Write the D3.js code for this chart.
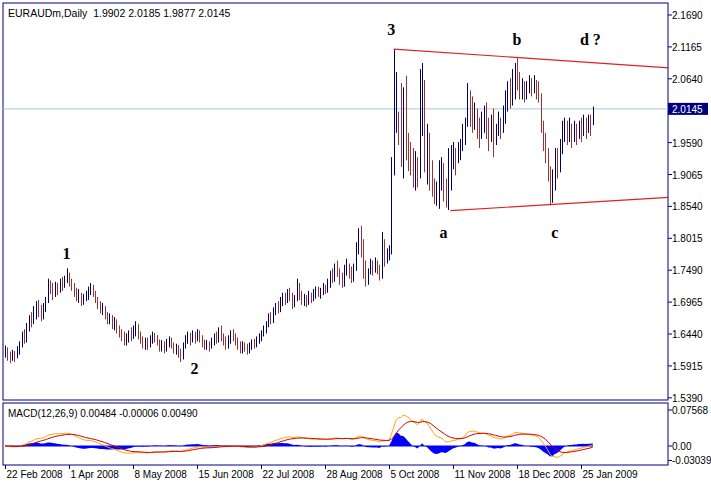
<!DOCTYPE html>
<html><head><meta charset="utf-8">
<script src="https://cdn.jsdelivr.net/npm/d3@7"></script>
<style>body{margin:0;background:#fff}svg{display:block}text{font-family:"Liberation Sans",Arial,sans-serif}</style>
</head><body><svg id="c" width="711" height="484"></svg>
<script>
// daily bars, open = previous close
const high = [1.625,1.622,1.615,1.618,1.616,1.624,1.632,1.648,1.652,1.662,1.675,1.680,1.690,1.698,1.700,1.692,1.695,1.705,1.735,1.732,1.728,1.730,1.728,1.735,1.738,1.740,1.752,1.745,
1.735,1.728,1.720,1.718,1.712,1.710,1.715,1.722,1.728,1.725,1.715,1.705,1.698,1.695,1.690,1.680,1.678,1.675,1.672,1.668,1.658,1.652,1.648,1.645,1.650,1.655,1.658,
1.665,1.660,1.648,1.640,1.638,1.638,1.642,1.648,1.646,1.642,1.635,1.634,1.632,1.636,1.640,1.638,1.630,1.628,1.626,1.620,1.630,1.642,1.648,1.646,1.650,1.648,1.652,
1.650,1.642,1.635,1.634,1.632,1.638,1.645,1.648,1.655,1.658,1.645,1.640,1.642,1.650,1.652,1.645,1.638,1.632,1.632,1.630,1.628,1.630,1.635,1.636,1.640,1.645,1.650,
1.658,1.665,1.678,1.680,1.688,1.695,1.698,1.705,1.712,1.712,1.718,1.720,1.712,1.708,1.735,1.728,1.715,1.710,1.708,1.715,1.712,1.718,1.722,1.722,1.720,1.728,1.725,
1.735,1.748,1.752,1.760,1.765,1.752,1.745,1.758,1.768,1.760,1.755,1.760,1.795,1.818,1.822,1.800,1.765,1.752,1.768,1.765,1.770,1.765,1.758,1.812,1.800,1.785,1.790,
1.935,2.113,2.075,2.010,2.057,2.050,2.069,1.975,1.960,1.950,1.945,1.935,2.080,2.090,2.062,1.990,1.975,1.930,1.900,1.895,1.930,1.935,1.925,1.900,1.950,1.955,
1.960,1.950,1.960,1.965,1.990,2.000,2.057,2.045,2.035,2.025,2.015,2.000,2.010,2.020,2.025,2.000,2.005,2.015,1.990,2.010,2.000,2.020,2.045,2.060,2.065,2.080,2.090,
2.098,2.075,2.065,2.060,2.060,2.070,2.065,2.070,2.062,2.060,2.040,1.995,1.975,1.950,1.920,1.915,1.950,1.950,1.965,1.995,2.000,1.995,2.000,1.990,1.995,1.990,1.995,
2.000,2.005,2.000,2.005,2.005,2.0185];
const low = [1.605,1.600,1.596,1.600,1.598,1.604,1.610,1.622,1.628,1.630,1.648,1.655,1.660,1.668,1.672,1.665,1.668,1.680,1.695,1.710,1.700,1.705,1.708,1.712,1.715,1.720,1.728,1.722,
1.715,1.705,1.698,1.695,1.690,1.692,1.698,1.700,1.708,1.705,1.695,1.685,1.678,1.675,1.668,1.660,1.660,1.652,1.650,1.645,1.638,1.632,1.625,1.625,1.630,1.632,1.636,
1.640,1.635,1.628,1.620,1.618,1.618,1.622,1.628,1.630,1.625,1.615,1.615,1.612,1.615,1.622,1.620,1.612,1.610,1.605,1.598,1.602,1.620,1.628,1.625,1.630,1.628,1.632,
1.630,1.622,1.618,1.618,1.615,1.620,1.625,1.628,1.630,1.632,1.625,1.618,1.620,1.628,1.632,1.625,1.618,1.612,1.612,1.615,1.610,1.612,1.618,1.620,1.622,1.628,1.632,
1.640,1.645,1.655,1.660,1.662,1.675,1.678,1.680,1.690,1.692,1.695,1.698,1.685,1.688,1.698,1.700,1.692,1.690,1.688,1.692,1.695,1.698,1.702,1.705,1.702,1.708,1.710,
1.712,1.720,1.728,1.730,1.738,1.725,1.720,1.722,1.740,1.735,1.728,1.730,1.748,1.775,1.770,1.735,1.722,1.725,1.742,1.740,1.745,1.742,1.732,1.735,1.755,1.760,1.765,
1.775,1.905,1.975,1.955,1.919,1.900,1.930,1.912,1.905,1.885,1.880,1.885,1.900,1.970,1.910,1.890,1.880,1.870,1.858,1.855,1.850,1.880,1.862,1.852,1.848,1.880,
1.915,1.905,1.925,1.930,1.945,1.955,1.985,1.985,1.975,1.980,1.965,1.950,1.965,1.975,1.965,1.945,1.960,1.935,1.955,1.970,1.965,1.975,1.990,2.010,2.015,2.020,2.030,
2.045,2.030,2.030,2.025,2.030,2.040,2.035,2.040,2.030,2.025,1.975,1.945,1.925,1.895,1.856,1.860,1.880,1.900,1.910,1.940,1.960,1.955,1.960,1.950,1.960,1.955,1.965,
1.960,1.970,1.965,1.975,1.970,1.9877];
const close = [1.618,1.610,1.606,1.612,1.608,1.618,1.625,1.640,1.636,1.655,1.668,1.662,1.675,1.688,1.680,1.670,1.686,1.700,1.728,1.720,1.712,1.725,1.715,1.728,1.722,1.735,1.742,1.730,
1.722,1.715,1.705,1.710,1.698,1.702,1.708,1.715,1.720,1.712,1.700,1.692,1.685,1.690,1.675,1.668,1.672,1.660,1.665,1.652,1.645,1.640,1.632,1.638,1.645,1.640,1.650,
1.655,1.642,1.635,1.628,1.632,1.625,1.635,1.642,1.638,1.630,1.622,1.628,1.620,1.630,1.635,1.625,1.618,1.622,1.612,1.608,1.625,1.635,1.640,1.632,1.642,1.636,1.645,
1.638,1.630,1.625,1.628,1.622,1.630,1.640,1.635,1.648,1.640,1.632,1.625,1.638,1.645,1.640,1.632,1.625,1.620,1.628,1.622,1.618,1.625,1.630,1.625,1.635,1.640,1.645,
1.652,1.660,1.672,1.668,1.680,1.690,1.685,1.698,1.705,1.700,1.712,1.705,1.690,1.700,1.720,1.708,1.698,1.705,1.698,1.710,1.702,1.712,1.718,1.710,1.715,1.722,1.718,
1.725,1.740,1.735,1.752,1.745,1.735,1.728,1.748,1.755,1.742,1.735,1.750,1.780,1.800,1.785,1.760,1.730,1.745,1.755,1.748,1.760,1.750,1.738,1.790,1.765,1.772,1.782,
1.920,2.010,2.040,1.975,1.930,2.000,1.950,1.930,1.915,1.900,1.925,1.905,2.020,2.060,1.930,1.960,1.900,1.885,1.870,1.880,1.900,1.920,1.880,1.865,1.910,1.925,
1.940,1.930,1.945,1.955,1.960,1.990,2.045,2.020,1.995,2.010,1.985,1.975,1.995,2.010,1.990,1.970,1.995,1.960,1.980,1.995,1.975,2.000,2.030,2.050,2.030,2.060,2.080,
2.060,2.040,2.055,2.035,2.050,2.060,2.045,2.055,2.040,2.035,1.990,1.960,1.945,1.910,1.870,1.905,1.940,1.920,1.955,1.975,1.990,1.970,1.985,1.965,1.980,1.970,1.990,
1.975,1.995,1.980,1.998,1.990,2.0145];
const firstOpen = 1.612;
const dateLabels = ["22 Feb 2008","1 Apr 2008","8 May 2008","15 Jun 2008","22 Jul 2008","28 Aug 2008","5 Oct 2008","11 Nov 2008","18 Dec 2008","25 Jan 2009"];
const dateIdx = [0,27,54,81,108,135,162,189,216,243];
const priceTicks = [2.1690,2.1165,2.0640,1.9590,1.9065,1.8540,1.8015,1.7490,1.6965,1.6440,1.5915,1.5390];
const lastPrice = 2.0145;
const waves = [["1",26,1.768],["2",80,1.578],["3",163,2.136],["a",185,1.802],["b",216,2.120],["c",232,1.802],["d ?",247,2.120]];
const upperLine = [[164,2.113],[280,2.082]];
const lowerLine = [[188,1.847],[280,1.869]];

const svg = d3.select("#c");
const L = 3, R = 668, T = 3, B = 400, MT = 403, MB = 465;
const navy = "#000080", upC = "#000066", dnC = "#993333";

const x = d3.scaleLinear().domain([0, 1]).range([5, 7.37]);
const y = d3.scaleLinear().domain([1.539, 2.169]).range([397.8, 15]);
const open = close.map((c, i) => i === 0 ? firstOpen : close[i - 1]);

svg.append("rect").attr("x", L).attr("y", T).attr("width", R - L).attr("height", B - T).attr("fill", "#fff").attr("stroke", navy);
svg.append("rect").attr("x", L).attr("y", MT).attr("width", R - L).attr("height", MB - MT).attr("fill", "#fff").attr("stroke", navy);

const main = svg.append("g");
main.append("line").attr("x1", L).attr("x2", R).attr("y1", y(lastPrice)).attr("y2", y(lastPrice)).attr("stroke", "#a6c8dc");

main.selectAll(".bar").data(close).join("g").each(function (c, i) {
  const g = d3.select(this), col = c >= open[i] ? upC : dnC, xi = Math.round(x(i)) + 0.5;
  g.append("line").attr("x1", xi).attr("x2", xi).attr("y1", y(high[i])).attr("y2", y(low[i])).attr("stroke", col);
});

[upperLine, lowerLine].forEach(l => main.append("line")
  .attr("x1", x(l[0][0])).attr("y1", y(l[0][1])).attr("x2", x(l[1][0])).attr("y2", y(l[1][1]))
  .attr("stroke", "#dd2222").attr("stroke-width", 1.2));

main.selectAll(".wave").data(waves).join("text")
  .attr("x", d => x(d[1])).attr("y", d => y(d[2]))
  .attr("text-anchor", "middle").style("font-family", "'Liberation Serif',serif").style("font-size", "16px")
  .style("font-weight", "bold").text(d => d[0]);

svg.append("text").attr("x", 8).attr("y", 17).style("font-size", "10.5px").attr("fill", "#000")
  .text("EURAUDm,Daily  1.9902 2.0185 1.9877 2.0145").attr("xml:space", "preserve");

// price axis
priceTicks.forEach(p => {
  svg.append("line").attr("x1", R).attr("x2", R + 4).attr("y1", y(p)).attr("y2", y(p)).attr("stroke", navy);
  svg.append("text").attr("x", 672).attr("y", y(p) + 4).style("font-size", "10px").text(p.toFixed(4));
});
svg.append("rect").attr("x", R).attr("y", y(lastPrice) - 6).attr("width", 40).attr("height", 12).attr("fill", navy);
svg.append("text").attr("x", 672).attr("y", y(lastPrice) + 4).style("font-size", "10px").attr("fill", "#fff").text(lastPrice.toFixed(4));

// MACD(12,26,9)
function ema(arr, n) { const k = 2 / (n + 1); let e = arr[0]; return arr.map(v => (e = v * k + e * (1 - k))); }
const e12 = ema(close, 12), e26 = ema(close, 26);
const macd = e12.map((v, i) => v - e26[i]);
const signal = ema(macd, 9);
const hist = macd.map((v, i) => v - signal[i]);
const ym = d3.scaleLinear().domain([0, 0.07568]).range([446, 410]);

const mg = svg.append("g");
mg.append("path").datum(hist).attr("fill", "#0000ff")
  .attr("d", d3.area().x((d, i) => x(i)).y0(ym(0)).y1(d => ym(d)));
mg.append("line").attr("x1", x(0)).attr("x2", x(close.length - 1)).attr("y1", ym(0)).attr("y2", ym(0)).attr("stroke", "#0000ff");
mg.append("path").datum(macd).attr("fill", "none").attr("stroke", "#ffa500")
  .attr("d", d3.line().x((d, i) => x(i)).y(d => ym(d)));
mg.append("path").datum(signal).attr("fill", "none").attr("stroke", "#cc0000")
  .attr("d", d3.line().x((d, i) => x(i)).y(d => ym(d)));
svg.append("text").attr("x", 8).attr("y", 417).style("font-size", "10px")
  .text("MACD(12,26,9) 0.00484 -0.00006 0.00490");
[[0.07568, "0.07568"], [0, "0.00"], [-0.03039, "-0.03039"]].forEach(([v, t]) => {
  svg.append("line").attr("x1", R).attr("x2", R + 4).attr("y1", ym(v)).attr("y2", ym(v)).attr("stroke", navy);
  svg.append("text").attr("x", 672).attr("y", ym(v) + 4).style("font-size", "10px").text(t);
});

// date axis
dateIdx.forEach((d, k) => {
  const xi = Math.round(x(d)) + 0.5;
  svg.append("line").attr("x1", xi).attr("x2", xi).attr("y1", MB).attr("y2", MB + 4).attr("stroke", navy);
  svg.append("text").attr("x", xi + 1).attr("y", 478).style("font-size", "10px").text(dateLabels[k]);
});
</script></body></html>
